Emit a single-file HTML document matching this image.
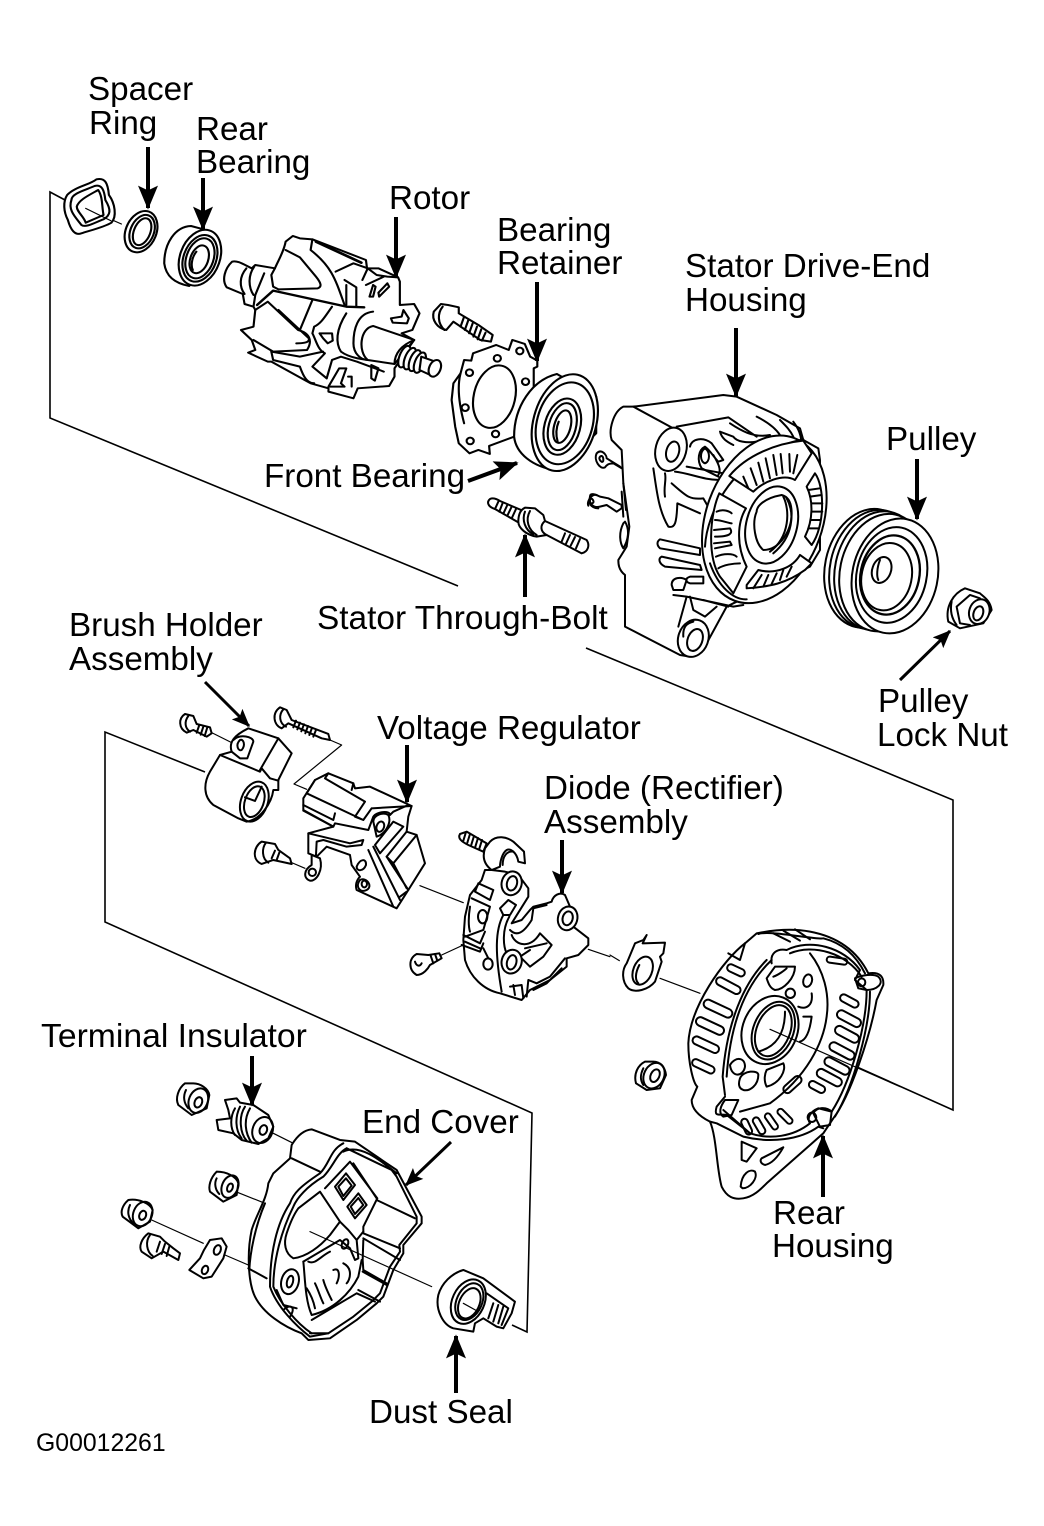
<!DOCTYPE html>
<html><head><meta charset="utf-8"><title>Alternator exploded diagram</title>
<style>
html,body{margin:0;padding:0;background:#fff;width:1044px;height:1526px;overflow:hidden}
svg{display:block}
text{font-family:"Liberation Sans",sans-serif;font-size:33.2px;fill:#000}
.z{fill:none;stroke:#000;stroke-width:6;stroke-linejoin:round;stroke-linecap:round}
.w{fill:#fff}
.g{stroke-width:1.6;fill:none;stroke:#000}
.a{stroke:#000;stroke-width:4;fill:none}
</style></head><body>
<svg width="1044" height="1526" viewBox="0 0 1044 1526" xmlns="http://www.w3.org/2000/svg">
<defs><marker id="h" markerWidth="6" markerHeight="5" refX="5.6" refY="2.5" orient="auto" markerUnits="strokeWidth"><path d="M0 0 L6 2.5 L0 5 L1.2 2.5Z" fill="#000"/></marker></defs>

<!-- frames -->
<path class="g" d="M65 200 L50 192 L50 418 L458 586"/>
<path class="g" d="M586 648 L953 800 L953 1110 L772 1029"/>
<path class="g" d="M205 772 L105 732 L105 922 L532 1113 L527 1332 L512 1325"/>

<!-- GROUP A rotor, bearings -->
<g transform="translate(50,170) scale(.357,.3333)" class="z">
<path d="M100 115 L200 162" stroke-width="3.5"/>
<path class="w" d="M48 75 C36 95 38 125 50 150 C58 180 70 197 88 190 C110 182 150 172 172 158 C188 140 182 100 165 75 C162 40 155 22 130 28 C110 45 70 50 48 75Z"/>
<path d="M60 90 C60 70 100 60 125 48 C145 42 152 60 155 90 C172 120 170 135 150 148 C130 155 100 175 88 165 C70 140 50 120 60 90Z"/>
<path d="M75 110 C80 90 110 75 135 60 C148 80 145 110 150 135 L100 158 C95 140 75 125 75 110Z"/>
<path d="M100 115 L170 152" stroke-width="3.5"/>
<ellipse cx="255" cy="185" rx="43" ry="64" transform="rotate(20 255 185)" class="w"/>
<ellipse cx="258" cy="185" rx="33" ry="52" transform="rotate(20 258 185)"/>
<ellipse cx="258" cy="185" rx="23" ry="42" transform="rotate(20 258 185)"/>
<path class="w" d="M395 168 C350 170 320 220 320 280 C325 320 350 340 390 348 L470 250 L430 178Z"/>
<ellipse cx="420" cy="263" rx="56" ry="86" transform="rotate(18 420 263)" class="w"/>
<ellipse cx="420" cy="265" rx="46" ry="72" transform="rotate(18 420 265)"/>
<ellipse cx="420" cy="265" rx="38" ry="62" transform="rotate(18 420 265)"/>
<ellipse cx="418" cy="268" rx="25" ry="43" transform="rotate(18 418 268)"/>
<path d="M410 245 C395 265 395 290 400 300"/>

<!-- rotor -->
<path class="w" d="M510 275 C490 295 480 330 495 352 L540 372 L545 402 L570 410 L575 420 L570 470 L535 480 L565 510 L575 540 L555 548 L610 575 L620 575 L730 640 L780 655 L780 665 L850 685 L862 655 L950 648 L965 620 L965 595 L1020 510 L985 490 L1015 480 L1035 430 L1020 402 L980 405 L980 335 L975 322 L920 295 L888 295 L885 270 L735 208 L700 205 L680 198 L660 215 C655 245 640 270 630 295 L575 285 L565 295 C545 285 525 270 510 275Z"/>
<path d="M550 295 C530 320 530 350 545 372"/>
<path d="M572 290 C555 315 555 350 570 375"/>
<path d="M600 310 L575 375 L570 410"/>
<path d="M630 295 L620 315 L625 350 L640 358 L750 355 C762 350 760 340 745 320 L700 262 L660 240"/>
<path d="M735 208 L730 240 C790 290 800 330 825 405"/>
<path d="M745 215 L872 278" stroke-width="8"/>
<path d="M800 305 L850 280 L885 293"/>
<path d="M825 330 L858 352 L858 410 M830 345 L830 405"/>
<path d="M875 330 L890 295 L915 315 L945 320 L975 322 M885 345 L935 320"/>
<path d="M895 380 L905 345 L912 350 L905 380Z M922 380 L950 350 L945 340 L920 368Z"/>
<path d="M575 420 L610 395 L695 480 C730 490 735 515 720 540 L625 545 L570 510"/>
<path d="M580 405 L625 362 L830 410 L880 412" stroke-width="7"/>
<path d="M640 420 L725 505 C730 520 700 520 690 520"/>
<path d="M735 390 L700 480"/>
<path d="M620 545 L625 570 L700 590 M700 590 C710 620 720 640 740 640"/>
<path d="M620 545 L700 560 L765 545"/>
<path d="M790 410 C770 440 760 460 740 470 L735 490 C745 510 750 540 770 550 L735 590 L775 625"/>
<path d="M755 490 L790 490 L792 512 L778 520 L765 505Z"/>
<path d="M775 625 L790 570 L815 560 L860 575 L935 605"/>
<path d="M780 650 L810 595 L830 595 L815 640 L825 650 Z M835 620 L845 620 L845 650"/>
<path d="M900 585 L920 595 L910 632 L900 625Z"/>
<path d="M955 445 L985 440 L990 420 L1005 445 L1000 460 L960 458Z"/>
<path d="M905 425 C860 430 850 480 850 520 C850 550 870 570 890 570"/>
<path d="M830 430 C800 480 800 520 815 545 C840 565 880 570 920 572"/>
<path class="w" d="M905 468 C868 475 862 545 890 570 L965 582 L1020 510Z"/>
<path d="M1020 510 C985 525 965 550 965 582"/>
<g class="w">
<ellipse cx="993" cy="560" rx="14" ry="34" transform="rotate(20 993 560)"/>
<ellipse cx="1008" cy="566" rx="14" ry="34" transform="rotate(20 1008 566)"/>
<ellipse cx="1022" cy="572" rx="14" ry="33" transform="rotate(20 1022 572)"/>
<ellipse cx="1036" cy="578" rx="14" ry="32" transform="rotate(20 1036 578)"/>
<path d="M1040 560 L1080 575 L1075 620 L1035 600Z"/>
<ellipse cx="1078" cy="595" rx="16" ry="26" transform="rotate(20 1078 595)"/>
</g>
<!-- bolt -->
<path class="w" d="M1115 405 L1095 402 L1075 425 C1068 450 1085 475 1110 480 L1130 455 L1205 510 L1235 515 L1240 495 L1200 465 L1145 430 L1145 412Z"/>
<path d="M1100 410 C1085 430 1085 460 1105 480"/>
<path d="M1160 440 L1150 470 M1172 450 L1162 480 M1184 460 L1174 490 M1196 470 L1186 500 M1208 478 L1198 508 M1220 488 L1210 512"/>
<!-- retainer -->
<path class="w" d="M1160 570 L1180 572 L1185 550 L1250 525 L1285 540 L1295 510 L1330 522 L1345 560 L1365 572 L1365 590 L1355 595 L1355 650 L1300 800 L1230 828 L1232 852 L1200 840 L1175 850 L1145 820 L1135 770 L1125 690 L1130 640 L1150 610Z"/>
<path d="M1150 610 C1140 650 1145 700 1160 760"/>
<ellipse cx="1245" cy="680" rx="58" ry="95" transform="rotate(12 1245 680)"/>
<circle cx="1175" cy="608" r="10"/><circle cx="1253" cy="565" r="10"/><circle cx="1332" cy="635" r="10"/><circle cx="1163" cy="713" r="10"/><circle cx="1248" cy="792" r="10"/><circle cx="1177" cy="813" r="10"/><circle cx="1316" cy="543" r="10"/>
<!-- front bearing -->
<path class="w" d="M1420 612 C1350 630 1300 710 1300 800 C1305 850 1350 890 1420 902 L1530 790 L1530 680Z"/>
<ellipse cx="1442" cy="758" rx="88" ry="148" transform="rotate(14 1442 758)" class="w"/>
<ellipse cx="1442" cy="760" rx="78" ry="125" transform="rotate(14 1442 760)"/>
<ellipse cx="1435" cy="770" rx="50" ry="86" transform="rotate(14 1435 770)"/>
<ellipse cx="1435" cy="770" rx="38" ry="72" transform="rotate(14 1435 770)"/>
<ellipse cx="1435" cy="770" rx="23" ry="50" transform="rotate(14 1435 770)"/>
<path d="M1425 755 C1415 780 1418 800 1422 815"/>
</g>

<!-- through bolt -->
<g class="z" transform="translate(480,485) scale(.3333)">
<path class="w" d="M30 42 C20 50 22 65 45 72 L115 112 L135 80 L60 48 C50 42 38 38 30 42Z"/>
<path d="M55 50 L45 72 M68 54 L58 80 M82 60 L70 86 M95 65 L82 92 M108 72 L96 98"/>
<path class="w" d="M135 68 L165 70 L190 90 L195 108 L320 165 C330 180 325 200 305 205 L200 150 L170 155 C140 150 115 130 115 110 C115 90 120 75 135 68Z"/>
<path d="M135 80 C125 105 135 135 160 148 M150 78 C135 105 145 135 170 150"/>
<path d="M195 108 C180 120 180 140 200 150"/>
<path d="M255 145 L245 170 M270 150 L258 176 M285 156 L272 182 M300 162 L288 190"/>
<path d="M325 62 C320 50 335 25 350 30 M330 45 C325 60 340 70 355 70"/>
</g>

<!-- GROUP B stator -->
<g transform="translate(590,380) scale(.3333)" class="z">
<path class="w" d="M130 80 L400 45 L440 50 L560 105 L630 145 L640 180 L685 205 L690 240 L690 510 L660 560 L430 670 L410 680 L350 790 L300 830 L270 825 L105 740 L105 585 C85 570 85 550 85 540 L110 500 L118 440 L100 310 L95 210 L65 180 C55 150 70 95 100 80Z"/>
<path d="M130 80 L250 145"/>
<path d="M260 140 L415 112 L500 170 M420 130 C450 150 490 175 540 165 M500 110 C540 130 560 150 570 165 M570 120 C590 140 600 150 610 170 M610 125 C625 145 635 165 635 200"/>
<path d="M390 155 L430 170 C440 185 470 190 500 185 M390 155 C395 175 410 185 430 195"/>
<path d="M300 200 C305 175 340 170 365 190 L400 240 L385 245 C370 230 360 210 345 200 C325 210 320 240 335 265 L365 280 L385 290 M345 205 C328 215 330 245 345 250 C360 245 362 215 345 205Z M370 225 C385 250 395 270 385 285"/>
<path d="M245 310 C290 350 300 360 340 355 L360 390 M255 275 C300 280 340 300 390 300 M290 260 L400 280"/>
<path d="M190 265 C200 330 205 390 235 440 C255 445 260 430 262 370 L330 400 M225 280 C230 300 220 320 225 350"/>
<path d="M210 478 L330 505 L330 525 L210 505 C200 495 200 485 210 478Z M215 530 L330 555 L335 570 L225 560 C205 550 205 535 215 530Z M300 590 L340 590 L340 610 L300 610 C285 605 285 595 300 590Z"/>
<path d="M245 615 C245 590 275 590 290 600 L280 630 L250 630Z"/>
<path d="M250 645 L290 650 L265 740 M300 650 L310 690 L345 710 L380 680 M340 660 L415 680 M290 650 L430 680 L460 675"/>
<path d="M100 310 L108 390 M100 430 C85 460 90 490 100 505 C115 480 120 450 105 425Z"/>
<ellipse cx="310" cy="775" rx="45" ry="57" transform="rotate(20 310 775)" class="w"/>
<ellipse cx="315" cy="780" rx="22" ry="34" transform="rotate(20 315 780)"/>
<path d="M280 770 C278 740 290 730 310 725"/>
<ellipse cx="243" cy="208" rx="46" ry="66" transform="rotate(15 243 208)" class="w"/>
<ellipse cx="248" cy="215" rx="19" ry="31" transform="rotate(15 248 215)"/>
<ellipse cx="523" cy="418" rx="175" ry="260" transform="rotate(20 523 418)" class="w"/>
<path d="M345 500 C350 400 430 220 640 178 M360 550 C385 620 430 660 470 658"/>
<path class="w" d="M418 288 C470 225 560 190 640 182 L665 220 L615 300 C580 280 520 305 490 335Z"/>
<path d="M460 290 L475 325 M482 265 L500 315 M505 248 L520 305 M527 235 L540 295 M550 225 L560 285 M572 222 L578 280 M598 222 L600 275 M622 225 L610 280"/>
<path class="w" d="M675 280 C705 320 705 440 665 495 L645 470 C670 420 670 360 650 320Z"/>
<path d="M655 330 L690 325 M660 350 L695 345 M665 370 L697 370 M665 395 L697 395 M662 420 L692 420 M655 445 L685 445"/>
<path class="w" d="M388 340 L468 385 C440 430 440 500 470 560 L430 640 L390 590 C350 530 360 400 388 340Z"/>
<path d="M380 395 C400 385 420 395 425 400 M375 420 C395 420 415 430 425 430 M372 450 L420 445 C430 460 420 470 375 470 M372 490 L420 485 L425 495 L375 505 M378 530 C400 520 430 520 440 530 M385 565 C400 555 430 550 450 550"/>
<path class="w" d="M470 615 L505 570 C560 585 610 560 630 525 L665 550 L645 570 C590 610 540 620 470 625Z"/>
<path d="M490 625 L515 585 M520 620 L535 585 M545 612 L560 580 M570 600 L580 570 M590 590 L605 560"/>
<ellipse cx="545" cy="435" rx="76" ry="118" transform="rotate(15 545 435)"/>
<path d="M575 345 C520 355 500 380 500 395 C485 430 495 490 520 510 C570 510 605 450 605 400 C605 370 595 350 575 345Z"/>
<path d="M580 350 C600 390 600 470 540 515 M590 355 C615 400 610 470 550 520"/>
<!-- terminals -->
<path d="M95 265 L70 250 C55 250 50 255 45 262 C30 270 10 240 20 220 C35 205 50 225 50 235 L90 260Z M28 235 C30 225 40 225 40 240 C40 250 30 245 28 235Z"/>
<path d="M95 375 L55 355 L30 350 C10 340 0 340 0 350 C-5 370 10 385 30 380 L50 375 L80 395 L95 385Z M0 355 C10 355 15 370 5 370"/>
<path d="M95 335 L100 410"/>
<!-- pulley -->
<g class="w">
<ellipse cx="835" cy="565" rx="130" ry="180" transform="rotate(12 835 565)"/>
<ellipse cx="850" cy="568" rx="130" ry="180" transform="rotate(12 850 568)"/>
<ellipse cx="865" cy="572" rx="130" ry="180" transform="rotate(12 865 572)"/>
<ellipse cx="880" cy="578" rx="130" ry="178" transform="rotate(12 880 578)"/>
<ellipse cx="915" cy="588" rx="128" ry="174" transform="rotate(12 915 588)"/>
</g>
<ellipse cx="905" cy="585" rx="105" ry="145" transform="rotate(12 905 585)"/>
<ellipse cx="900" cy="585" rx="88" ry="120" transform="rotate(12 900 585)" stroke-width="7"/>
<ellipse cx="890" cy="590" rx="75" ry="102" transform="rotate(12 890 590)"/>
<ellipse cx="875" cy="570" rx="28" ry="40" transform="rotate(20 875 570)"/>
<path d="M870 540 C860 565 860 590 865 600"/>
<!-- nut -->
<path class="w" d="M1125 625 C1090 640 1065 680 1075 725 L1110 745 L1180 730 L1205 690 C1200 660 1180 650 1170 640Z"/>
<path d="M1100 680 L1140 645 L1170 655 M1100 680 L1110 730 L1140 735 M1085 665 C1080 690 1085 715 1100 735"/>
<ellipse cx="1168" cy="695" rx="30" ry="38" transform="rotate(20 1168 695)" class="w"/>
<ellipse cx="1165" cy="700" rx="14" ry="22" transform="rotate(20 1165 700)"/>
</g>

<!-- GROUP C regulator etc -->
<g transform="translate(160,690) scale(.3333)" class="z">
<path class="w" d="M75 72 C55 85 55 115 80 128 L100 120 L140 140 L155 130 L150 112 L110 102 L100 78Z"/>
<path d="M85 78 C72 95 75 115 90 125 M118 105 L110 128 M130 110 L122 134 M142 112 L134 138"/>
<path d="M155 128 L215 158" stroke-width="3.5"/>
<path class="w" d="M265 115 L355 145 L395 190 L355 270 L355 300 L340 300 C335 340 300 390 260 395 L235 385 L160 345 C130 320 130 280 150 245 L180 195 L215 185 C205 155 225 135 265 115Z"/>
<path d="M220 150 C240 130 280 140 280 155 L262 205 L240 205 L215 185 M240 150 C225 165 235 185 245 180 C258 165 250 145 240 150Z"/>
<path d="M180 195 L300 245 L305 235 L330 265 L355 272"/>
<path d="M355 145 L300 240"/>
<ellipse cx="283" cy="335" rx="40" ry="62" transform="rotate(20 283 335)"/>
<ellipse cx="283" cy="335" rx="28" ry="48" transform="rotate(20 283 335)"/>
<path d="M255 322 L285 333 L305 290"/>
<path class="w" d="M360 52 C335 70 340 105 365 115 L385 100 L485 145 L510 150 L505 132 L395 90 L380 60Z"/>
<path d="M370 58 C355 75 358 100 378 110 M408 92 L400 112 M420 98 L412 118 M432 103 L424 124 M444 108 L436 130 M456 114 L448 135 M468 120 L460 140"/>
<path d="M510 150 L545 165 L402 282 L440 298" stroke-width="3.5"/>
<!-- regulator -->
<path class="w" d="M465 270 L505 250 L580 280 L585 295 L630 290 L755 348 L745 380 L740 425 L770 435 L795 520 L745 600 L710 655 L590 600 C585 585 590 570 600 560 L575 525 L570 495 L500 470 L480 490 L470 500 L445 490 L445 430 L520 410 L430 360 L430 325Z"/>
<path d="M465 270 L440 310 L610 390 L635 355 M505 250 L495 265 L615 335 L585 380 L610 390 M580 280 L575 300 M635 355 L755 348"/>
<path d="M430 345 L520 390 L525 370 M430 362 L520 410 L525 400 L625 420 L640 380 C650 365 690 360 690 375 L700 365 L745 345"/>
<path d="M640 395 C640 375 670 365 685 375 C695 395 680 430 650 440 Z"/>
<ellipse cx="661" cy="410" rx="11" ry="16" transform="rotate(20 661 410)"/>
<path d="M700 395 L730 410 L660 490 L645 465 Z M740 425 L680 500 L700 520 L770 435"/>
<path d="M700 520 L740 595 M680 500 L745 600"/>
<path d="M625 480 L700 650 M640 470 L720 630"/>
<path d="M445 430 L570 460 L610 450 L605 465 L560 470 L490 450 L470 455 L468 495"/>
<path d="M590 530 C600 505 620 505 618 525 C610 545 590 545 590 530Z"/>
<path d="M600 570 C620 560 640 590 620 600 C600 610 585 590 600 570Z"/>
<ellipse cx="613" cy="582" rx="8" ry="10"/>
<path d="M720 620 L740 605"/>
<path class="w" d="M455 495 L480 505 C490 540 470 575 450 572 C430 565 430 540 455 525Z"/>
<circle cx="457" cy="547" r="11"/>
<path class="w" d="M305 455 C280 470 275 510 305 522 L340 510 L395 522 L390 505 L355 480 L345 462Z"/>
<path d="M318 458 C305 475 305 505 325 518 M345 482 L335 505 M358 488 L350 510"/>
<path d="M395 518 L435 535" stroke-width="3.5"/>
<path d="M780 587 L910 638" stroke-width="3.5"/>
<path d="M1285 778 L1350 800" stroke-width="3.5"/>
<path class="w" d="M770 792 C745 805 745 840 770 855 C790 855 805 835 810 825 L845 805 L838 790 L805 795Z"/>
<path d="M765 815 C770 830 780 830 785 820 M812 797 L820 820 M825 792 L832 812"/>
<path d="M845 795 L910 765" stroke-width="3.5"/>
</g>

<!-- Diode assembly -->
<g transform="translate(450,820) scale(.3333)" class="z">
<path class="w" d="M30 42 C22 55 35 65 55 75 L100 95 L110 70 L50 35Z"/>
<path d="M48 36 L40 62 M60 42 L52 68 M72 48 L64 74 M84 54 L76 80 M96 60 L88 86"/>
<path class="w" d="M95 180 L60 225 L45 290 L40 360 L45 420 C60 470 100 510 150 520 L215 540 L240 510 L300 480 L350 440 L350 415 L385 405 L415 375 L415 355 L370 320 L380 295 L360 260 L345 225 C330 215 310 225 305 245 L290 250 L250 260 L240 270 L215 300 L185 310 L235 230 L235 205 L205 165 L165 155 L125 150 L105 150Z"/>
<path class="w" d="M120 65 C140 45 170 50 190 65 L222 95 L225 130 L205 125 C200 95 180 85 170 90 C155 100 150 130 150 140 L125 150 C105 135 95 115 105 85Z"/>
<path d="M158 135 C158 110 170 92 190 95"/>
<path d="M85 190 L130 210 L120 240 L75 215Z"/>
<path d="M65 235 L120 260 L100 330 L45 350 L40 345 L90 370 L105 335"/>
<ellipse cx="98" cy="290" rx="14" ry="20"/>
<path d="M60 260 C55 290 55 320 60 335"/>
<path d="M35 375 L90 395 L100 370 M45 365 L90 385"/>
<path d="M100 385 L115 415"/>
<ellipse cx="114" cy="432" rx="14" ry="17"/>
<ellipse cx="185" cy="190" rx="30" ry="36" transform="rotate(15 185 190)" class="w"/>
<ellipse cx="186" cy="190" rx="15" ry="22" transform="rotate(15 186 190)"/>
<path class="w" d="M150 265 L175 240 L198 255 L180 285 L160 285Z"/>
<path d="M160 285 C135 330 135 400 155 515 M178 290 C155 330 160 380 170 400"/>
<path d="M180 330 C200 350 220 340 245 300 L250 265 L290 255"/>
<path d="M185 345 C195 375 240 390 270 340 L305 375 L280 410 L240 440 L210 410 L240 390 M225 385 L290 370"/>
<ellipse cx="185" cy="425" rx="30" ry="36" transform="rotate(15 185 425)" class="w"/>
<ellipse cx="185" cy="427" rx="14" ry="22" transform="rotate(15 185 427)"/>
<ellipse cx="353" cy="295" rx="29" ry="36" transform="rotate(15 353 295)" class="w"/>
<ellipse cx="353" cy="295" rx="15" ry="21" transform="rotate(15 353 295)"/>
<path d="M180 500 L215 495 L220 535 M190 495 L195 525 M230 530 L235 480 L260 490 L300 470 L345 415 M250 510 L290 490 L335 445"/>
</g>

<!-- GROUP D rear housing -->
<g transform="translate(610,910) scale(.3333)" class="z">
<path class="w" d="M110 75 L98 100 L165 98 L160 130 L150 140 L155 155 L135 215 C115 240 75 250 55 235 C35 215 35 180 50 160 L75 100 L100 90Z"/>
<ellipse cx="98" cy="182" rx="28" ry="44" transform="rotate(22 98 182)"/>
<path d="M88 165 C75 190 75 210 85 220"/>
<path d="M0 135 L28 152 M150 205 L270 250" stroke-width="3.5"/>
<path class="w" d="M105 455 C85 465 70 490 78 520 L110 540 L150 535 L168 495 C165 470 150 455 130 455Z"/>
<ellipse cx="132" cy="497" rx="30" ry="40" transform="rotate(25 132 497)"/>
<ellipse cx="135" cy="497" rx="13" ry="20" transform="rotate(25 135 497)"/>
<path d="M100 475 C90 495 90 510 100 525"/>
<path class="w" d="M440 70 L405 100 C340 150 240 290 235 400 C235 460 250 520 262 530 L245 570 C245 600 270 620 300 635 C320 680 320 780 335 830 C350 860 370 870 400 865 C430 860 450 840 470 820 L640 670 L670 625 C720 560 780 380 800 270 L820 225 C822 200 810 185 775 190 C740 120 680 80 600 65 C550 55 490 60 440 70Z"/>
<path d="M405 100 L390 150 L355 130 M445 72 C480 60 620 90 640 85 C700 100 740 140 765 190"/>
<path d="M490 70 L540 95 M520 62 L570 92 M555 58 L600 88"/>
<path d="M485 160 C480 130 500 115 530 120 C600 85 700 110 750 180 L735 210 L770 240 C770 350 720 520 665 605 L625 595 C600 605 590 625 600 640 C550 680 480 690 420 670 L350 615 C330 610 310 625 320 590 L345 560 M470 150 C400 220 350 340 338 500 L345 555"/>
<path d="M485 150 C400 230 360 350 350 500"/>
<path d="M540 130 C610 100 710 130 755 200 M780 245 C780 350 730 530 675 620"/>
<path d="M300 635 L320 640 L400 680 C480 700 570 690 625 650 L640 655"/>
<path d="M340 600 L420 670 M345 570 L385 570 L365 615 L340 620 C325 610 330 590 345 570Z"/>
<path d="M600 130 C640 180 660 250 650 320 C640 400 590 500 480 580 L390 605"/>
<path d="M610 610 C620 590 650 590 665 605 L660 645 L630 650 Z"/>
<ellipse cx="606" cy="622" rx="13" ry="14"/>
<path d="M735 205 C755 195 790 190 805 200 C825 220 800 240 770 240 L745 235Z"/>
<ellipse cx="755" cy="217" rx="11" ry="12"/>
<g>
<rect x="350" y="170" width="56" height="22" rx="11" transform="rotate(25 378 181)"/>
<rect x="315" y="215" width="80" height="24" rx="12" transform="rotate(28 355 227)"/>
<rect x="278" y="283" width="92" height="26" rx="13" transform="rotate(25 324 296)"/>
<rect x="255" y="335" width="90" height="26" rx="13" transform="rotate(25 300 348)"/>
<rect x="245" y="392" width="85" height="24" rx="12" transform="rotate(25 287 404)"/>
<rect x="244" y="458" width="72" height="22" rx="11" transform="rotate(25 280 469)"/>
<rect x="650" y="143" width="62" height="18" rx="9" transform="rotate(8 681 152)"/>
<rect x="688" y="262" width="60" height="22" rx="11" transform="rotate(28 718 273)"/>
<rect x="678" y="313" width="78" height="26" rx="13" transform="rotate(28 717 326)"/>
<rect x="672" y="360" width="78" height="26" rx="13" transform="rotate(28 711 373)"/>
<rect x="655" y="410" width="82" height="26" rx="13" transform="rotate(28 696 423)"/>
<rect x="640" y="455" width="82" height="26" rx="13" transform="rotate(28 681 468)"/>
<rect x="617" y="490" width="82" height="26" rx="13" transform="rotate(28 658 503)"/>
<rect x="595" y="520" width="52" height="22" rx="11" transform="rotate(28 621 531)"/>
<rect x="515" y="512" width="65" height="24" rx="12" transform="rotate(-42 547 524)"/>
<rect x="497" y="610" width="56" height="18" rx="9" transform="rotate(45 525 619)"/>
<rect x="457" y="625" width="55" height="18" rx="9" transform="rotate(55 484 634)"/>
<rect x="420" y="637" width="55" height="20" rx="10" transform="rotate(60 447 647)"/>
<rect x="385" y="640" width="50" height="20" rx="10" transform="rotate(65 410 650)"/>
</g>
<ellipse cx="480" cy="360" rx="82" ry="105" transform="rotate(22 480 360)"/>
<ellipse cx="490" cy="362" rx="60" ry="90" transform="rotate(22 490 362)"/>
<ellipse cx="490" cy="362" rx="50" ry="80" transform="rotate(22 490 362)"/>
<path d="M525 305 C525 370 500 410 445 425"/>
<path d="M480 358 L870 530" stroke-width="3.5"/>
<path d="M470 205 L495 170 L555 170 C555 205 520 240 495 240 C480 235 475 220 470 205Z M490 200 C505 195 525 180 530 175"/>
<circle cx="541" cy="250" r="14"/><ellipse cx="593" cy="212" rx="13" ry="19" transform="rotate(15 593 212)"/>
<path d="M605 250 C610 285 590 300 565 290 M580 320 L605 320 C600 360 590 390 570 395"/>
<path d="M360 465 C375 440 405 440 405 470 C400 500 365 505 360 465Z M390 505 C400 480 445 480 445 495 C445 525 420 545 400 540 C385 535 385 520 390 505Z M470 480 L520 460 C530 480 510 520 470 530 C460 510 465 490 470 480Z"/>
<path d="M395 695 L440 715 L410 755 L395 750Z M455 745 L520 712 C510 730 490 760 465 765 C450 760 450 750 455 745Z M392 830 C395 790 420 775 435 785 C445 805 420 835 398 835Z"/>
</g>

<!-- GROUP E small parts -->
<g transform="translate(110,1070) scale(.3333)" class="z">
<path class="w" d="M225 40 C205 55 195 85 205 105 L245 135 L290 115 L298 75 C295 55 270 40 250 40Z"/>
<ellipse cx="265" cy="92" rx="28" ry="38" transform="rotate(22 265 92)"/>
<ellipse cx="265" cy="97" rx="11" ry="16" transform="rotate(22 265 97)"/>
<path d="M228 60 C218 80 222 100 235 115"/>
<path class="w" d="M345 90 L380 85 L390 98 L430 105 L475 135 L490 170 L475 205 L445 222 L395 210 L370 190 L325 180 L320 150 L360 145 L355 120Z"/>
<ellipse cx="458" cy="180" rx="30" ry="40" transform="rotate(20 458 180)"/>
<ellipse cx="460" cy="180" rx="11" ry="15" transform="rotate(20 460 180)"/>
<path d="M375 115 C360 140 360 175 375 195 M390 110 C375 140 375 180 395 205 M405 110 C385 140 390 190 410 212 M420 115 C400 150 405 190 425 218"/>
<path d="M490 190 L550 220" stroke-width="3.5"/>
<path class="w" d="M320 305 C300 325 295 350 300 365 L340 395 L380 375 L385 340 C380 320 350 305 320 305Z"/>
<ellipse cx="360" cy="350" rx="24" ry="35" transform="rotate(22 360 350)"/>
<ellipse cx="360" cy="353" rx="8" ry="13" transform="rotate(22 360 353)"/>
<path d="M320 325 C312 340 316 360 328 372"/>
<path d="M385 368 L465 400" stroke-width="3.5"/>
<path class="w" d="M55 390 C38 405 30 425 38 440 L85 475 L120 455 L128 420 C120 400 85 385 55 390Z"/>
<ellipse cx="98" cy="432" rx="28" ry="38" transform="rotate(22 98 432)"/>
<ellipse cx="98" cy="436" rx="10" ry="14" transform="rotate(22 98 436)"/>
<path d="M60 405 C50 425 55 445 70 460"/>
<path d="M125 450 L280 520" stroke-width="3.5"/>
<path class="w" d="M115 490 C95 505 85 530 95 545 L125 565 L160 545 L205 570 L210 550 L190 535 L165 515 L150 500Z"/>
<path d="M120 495 C105 515 110 545 128 558 M150 515 L140 545 M165 522 L155 552 M178 530 L170 558"/>
<path class="w" d="M300 510 L335 505 L350 530 L340 565 L305 620 L280 625 L238 600 L270 565 L282 540Z"/>
<ellipse cx="322" cy="540" rx="10" ry="15" transform="rotate(22 322 540)"/>
<ellipse cx="285" cy="600" rx="9" ry="13" transform="rotate(22 285 600)"/>
<path d="M345 555 L415 585" stroke-width="3.5"/>
</g>

<!-- End cover -->
<g transform="translate(240,1120) scale(.3333)" class="z">
<path class="w" d="M215 28 L300 60 L345 65 L440 130 L470 150 L545 290 L545 310 L490 375 L490 400 L460 450 L430 530 L410 550 L350 600 L270 655 L205 660 L185 640 C130 620 70 580 45 530 C25 490 20 400 35 330 C50 280 80 240 85 190 L100 160 L150 115 L155 75 C170 50 190 30 215 28Z"/>
<path d="M155 115 L240 155 M25 445 L80 475"/>
<path d="M75 250 C45 320 30 400 28 450"/>
<path d="M310 70 C270 90 270 130 240 160 C180 200 160 220 150 250 C110 310 90 400 90 500 C110 560 170 620 210 650 L265 640"/>
<path d="M320 85 C290 100 280 140 250 170 C200 200 170 235 160 260 C125 330 100 420 100 500 C120 550 170 610 215 640"/>
<path d="M310 95 C360 70 420 120 470 160 M320 85 L455 150 L470 170 L530 290 L530 310 L478 375 L480 395 L450 440 L420 520 L395 545 L340 590 L265 640 L210 640"/>
<path d="M255 205 L330 125 L412 235 L370 320 L370 340 L480 385 M340 130 L410 235 M410 240 L525 295"/>
<path d="M285 200 L318 160 L345 195 L310 240Z M295 200 L318 175 L335 197 L310 228Z M322 260 L355 220 L380 255 L345 295Z M332 260 L355 234 L370 255 L345 282Z"/>
<path d="M175 265 L240 215 L300 305 L270 345 C240 380 200 410 160 415 C135 400 130 370 140 340 C150 310 160 285 175 265Z"/>
<path d="M300 305 L325 330 L350 360 L370 335 M350 360 L355 415 L345 420 L330 385 L300 360 L190 425"/>
<path d="M370 360 L368 420 L370 450 L440 490 M368 455 L440 495 M355 510 L420 545 M370 355 L480 420"/>
<path d="M190 425 C195 470 195 540 215 585 C280 570 330 520 355 470 L365 420"/>
<path d="M215 600 L350 520 L405 545"/>
<path d="M205 425 C225 435 240 410 270 395 M200 505 C210 520 220 540 225 565 M225 490 C235 510 240 530 250 550 M250 480 C255 500 265 520 275 540 M280 450 C300 440 300 470 290 490 M310 430 C340 445 330 480 320 490"/>
<ellipse cx="315" cy="372" rx="9" ry="15" transform="rotate(22 315 372)"/>
<path d="M210 335 L575 500" stroke-width="3.5"/>
<ellipse cx="150" cy="485" rx="26" ry="38" transform="rotate(15 150 485)"/>
<ellipse cx="150" cy="485" rx="9" ry="18" transform="rotate(15 150 485)"/>
<path d="M110 510 L130 555 L170 565 M130 570 C150 550 170 560 150 590"/>
</g>

<!-- Dust seal -->
<g transform="translate(110,1070) scale(.3333)" class="z">
<path class="w" d="M1060 600 L1120 625 L1215 695 L1205 730 L1180 775 L1160 770 L1120 745 L1095 760 L1090 785 L1030 775 C1000 765 975 720 985 675 C995 640 1025 610 1060 600Z"/>
<ellipse cx="1075" cy="695" rx="48" ry="70" transform="rotate(25 1075 695)"/>
<ellipse cx="1078" cy="695" rx="38" ry="58" transform="rotate(25 1078 695)"/>
<ellipse cx="1078" cy="700" rx="30" ry="48" transform="rotate(25 1078 700)"/>
<path d="M1130 670 L1195 715 L1175 765 M1150 700 L1135 745 M1165 705 L1150 755 M1180 710 L1165 760"/>
<path d="M1060 700 L1105 725" stroke-width="3.5"/>
</g>

<!-- arrows -->
<g class="a">
<path d="M148 147 V208" marker-end="url(#h)"/>
<path d="M203 178 V229" marker-end="url(#h)"/>
<path d="M396 217 V277" marker-end="url(#h)"/>
<path d="M537 282 V361" marker-end="url(#h)"/>
<path d="M736 328 V396" marker-end="url(#h)"/>
<path d="M917 459 V519" marker-end="url(#h)"/>
<path d="M468 481 L517 463" marker-end="url(#h)"/>
<path d="M525 597 V535" marker-end="url(#h)"/>
<path d="M900 680 L950 631" stroke-width="3" marker-end="url(#h)"/>
<path d="M205 682 L249 726" stroke-width="3" marker-end="url(#h)"/>
<path d="M407 745 V802" marker-end="url(#h)"/>
<path d="M562 840 V893" marker-end="url(#h)"/>
<path d="M252 1056 V1105" marker-end="url(#h)"/>
<path d="M451 1142 L406 1185" stroke-width="3" marker-end="url(#h)"/>
<path d="M823 1197 V1136" marker-end="url(#h)"/>
<path d="M456 1393 V1336" marker-end="url(#h)"/>
</g>

<!-- labels -->
<text x="88" y="100">Spacer</text><text x="89" y="134">Ring</text>
<text x="196" y="140">Rear</text><text x="196" y="173">Bearing</text>
<text x="389" y="209">Rotor</text>
<text x="497" y="241">Bearing</text><text x="497" y="274">Retainer</text>
<text x="685" y="277">Stator Drive-End</text><text x="685" y="311">Housing</text>
<text x="886" y="450">Pulley</text>
<text x="264" y="487">Front Bearing</text>
<text x="317" y="629" style="font-size:33.4px">Stator Through-Bolt</text>
<text x="69" y="636">Brush Holder</text><text x="69" y="670">Assembly</text>
<text x="878" y="712">Pulley</text><text x="877" y="746">Lock Nut</text>
<text x="377" y="739">Voltage Regulator</text>
<text x="544" y="799">Diode (Rectifier)</text><text x="544" y="833">Assembly</text>
<text x="41" y="1047" style="font-size:33.7px">Terminal Insulator</text>
<text x="362" y="1133">End Cover</text>
<text x="773" y="1224">Rear</text><text x="772" y="1257">Housing</text>
<text x="369" y="1423">Dust Seal</text>
<text x="36" y="1451" style="font-size:24.8px">G00012261</text>
</svg>
</body></html>
